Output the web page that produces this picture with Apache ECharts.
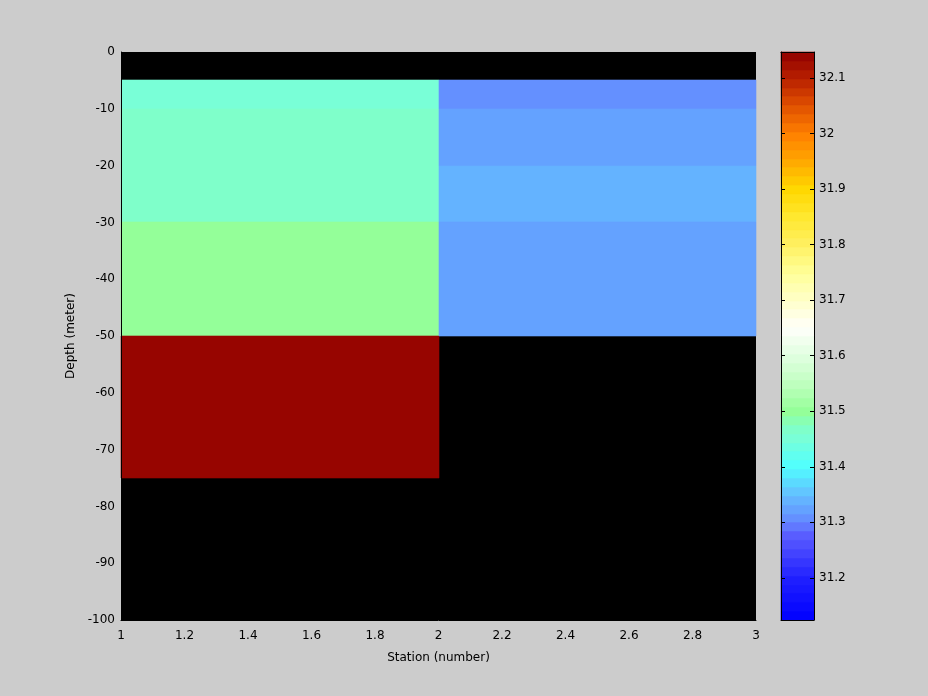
<!DOCTYPE html>
<html><head><meta charset="utf-8">
<script src="https://cdn.jsdelivr.net/npm/echarts@6/dist/echarts.min.js"></script>
<style>html,body{margin:0;padding:0;background:#cccccc}#c{width:928px;height:696px}</style>
</head><body><div id="c"></div>
<script>
// ---- data ----
const stationEdges = [1, 2, 3];
const depthEdges = [0, -5, -10, -20, -30, -50, -75, -100];
// salinity per depth band (between stationEdges[i] and stationEdges[i+1]); null = no data
const salinityStation1 = [null, 31.445, 31.465, 31.465, 31.50, 32.147, null];
const salinityStation2 = [null, 31.305, 31.322, 31.338, 31.322, null, null];
const xTicks = [1, 1.2, 1.4, 1.6, 1.8, 2, 2.2, 2.4, 2.6, 2.8, 3];
const yTicks = [0, -10, -20, -30, -40, -50, -60, -70, -80, -90, -100];
const colorbarTicks = [31.2, 31.3, 31.4, 31.5, 31.6, 31.7, 31.8, 31.9, 32.0, 32.1];
const cMin = 31.124, cMax = 32.147;

// ---- colormap (style) ----
const nLevels = 64;
const cmapStops = [
  [31.124, [0, 0, 255]], [31.2, [32, 32, 255]], [31.25, [72, 72, 255]], [31.28, [92, 96, 255]],
  [31.3, [100, 136, 255]], [31.35, [100, 190, 255]], [31.4, [80, 255, 255]], [31.45, [120, 255, 216]],
  [31.47, [128, 255, 200]], [31.5, [148, 255, 152]], [31.55, [192, 255, 192]], [31.6, [224, 255, 224]],
  [31.65, [255, 255, 250]], [31.7, [255, 255, 200]], [31.75, [255, 255, 152]], [31.8, [255, 240, 96]],
  [31.85, [255, 232, 48]], [31.9, [255, 216, 0]], [31.95, [255, 168, 0]], [32.0, [255, 128, 0]],
  [32.05, [224, 80, 0]], [32.1, [184, 32, 0]], [32.147, [144, 0, 0]]
];
function interpColor(v) {
  if (v <= cmapStops[0][0]) return cmapStops[0][1];
  for (let i = 1; i < cmapStops.length; i++) {
    if (v <= cmapStops[i][0]) {
      const a = cmapStops[i - 1], b = cmapStops[i];
      const t = (v - a[0]) / (b[0] - a[0]);
      return a[1].map((c, k) => Math.round(c + (b[1][k] - c) * t));
    }
  }
  return cmapStops[cmapStops.length - 1][1];
}
const step = (cMax - cMin) / nLevels;
function levelIndex(v) { return Math.max(0, Math.min(nLevels - 1, Math.floor((v - cMin) / step))); }
function levelColor(i) { const c = interpColor(cMin + (i + 0.5) * step); return 'rgb(' + c.join(',') + ')'; }

// ---- build cells ----
const columns = [salinityStation1, salinityStation2];
const cells = [];
columns.forEach((col, ci) => {
  col.forEach((v, di) => {
    if (v !== null) cells.push([stationEdges[ci], stationEdges[ci + 1], depthEdges[di], depthEdges[di + 1], v]);
  });
});
const levels = [];
for (let i = 0; i < nLevels; i++) levels.push([0, 1, cMin + i * step, cMin + (i + 1) * step, cMin + (i + 0.5) * step]);

function rectItem(params, api) {
  const p0 = api.coord([api.value(0), api.value(2)]);
  const p1 = api.coord([api.value(1), api.value(3)]);
  const x0 = Math.round(Math.min(p0[0], p1[0])), x1 = Math.round(Math.max(p0[0], p1[0]));
  const y0 = Math.round(Math.min(p0[1], p1[1])), y1 = Math.round(Math.max(p0[1], p1[1]));
  const col = levelColor(levelIndex(api.value(4)));
  return {
    type: 'rect',
    shape: { x: x0, y: y0, width: x1 - x0, height: y1 - y0 },
    style: { fill: col, stroke: col, lineWidth: 0.6 }
  };
}

const font = 'DejaVu Sans';
const chart = echarts.init(document.getElementById('c'), null, { renderer: 'canvas' });
chart.setOption({
  backgroundColor: '#cccccc',
  animation: false,
  textStyle: { fontFamily: font },
  grid: [
    { left: 121, right: 172, top: 52, bottom: 76, show: true, backgroundColor: '#000000', borderWidth: 0 },
    { left: 781, right: 114, top: 52, bottom: 76, show: false }
  ],
  xAxis: [
    { gridIndex: 0, type: 'value', min: 1, max: 3, interval: 0.2, z: 10,
      name: 'Station (number)', nameLocation: 'middle', nameGap: 32,
      nameTextStyle: { color: '#000', fontSize: 12, fontFamily: font },
      axisLine: { show: true, onZero: false, lineStyle: { color: '#000', width: 1 } },
      axisTick: { show: false }, splitLine: { show: false },
      axisLabel: { color: '#000', fontSize: 12, fontFamily: font, margin: 10,
        customValues: xTicks, formatter: v => String(+v.toFixed(1)) } },
    { gridIndex: 1, type: 'value', min: 0, max: 1, position: 'bottom', z: 10,
      axisLine: { show: true, onZero: false, lineStyle: { color: '#000', width: 1 } },
      axisTick: { show: false }, axisLabel: { show: false }, splitLine: { show: false } },
    { gridIndex: 1, type: 'value', min: 0, max: 1, position: 'top', z: 10,
      axisLine: { show: true, onZero: false, lineStyle: { color: '#000', width: 1 } },
      axisTick: { show: false }, axisLabel: { show: false }, splitLine: { show: false } }
  ],
  yAxis: [
    { gridIndex: 0, type: 'value', min: -100, max: 0, interval: 10, z: 10,
      name: 'Depth (meter)', nameLocation: 'middle', nameGap: 34, nameRotate: 90,
      nameTextStyle: { color: '#000', fontSize: 12, fontFamily: font },
      axisLine: { show: true, onZero: false, lineStyle: { color: '#000', width: 1 } },
      axisTick: { show: false }, splitLine: { show: false },
      axisLabel: { color: '#000', fontSize: 12, fontFamily: font, margin: 6, customValues: yTicks } },
    { gridIndex: 1, type: 'value', min: cMin, max: cMax, position: 'left', z: 10,
      axisLine: { show: true, onZero: false, lineStyle: { color: '#000', width: 1 } },
      axisTick: { show: true, inside: true, length: 4, customValues: colorbarTicks, lineStyle: { color: '#000' } },
      axisLabel: { show: false }, splitLine: { show: false } },
    { gridIndex: 1, type: 'value', min: cMin, max: cMax, position: 'right', z: 10,
      axisLine: { show: true, onZero: false, lineStyle: { color: '#000', width: 1 } },
      axisTick: { show: true, inside: true, length: 4, customValues: colorbarTicks, lineStyle: { color: '#000' } },
      axisLabel: { show: true, color: '#000', fontSize: 12, fontFamily: font, margin: 5,
        customValues: colorbarTicks, formatter: v => String(+v.toFixed(1)) },
      splitLine: { show: false } }
  ],
  series: [
    { type: 'custom', xAxisIndex: 0, yAxisIndex: 0, renderItem: rectItem, data: cells, silent: true },
    { type: 'custom', xAxisIndex: 1, yAxisIndex: 1, renderItem: rectItem, data: levels, silent: true }
  ]
});
</script>
</body></html>
